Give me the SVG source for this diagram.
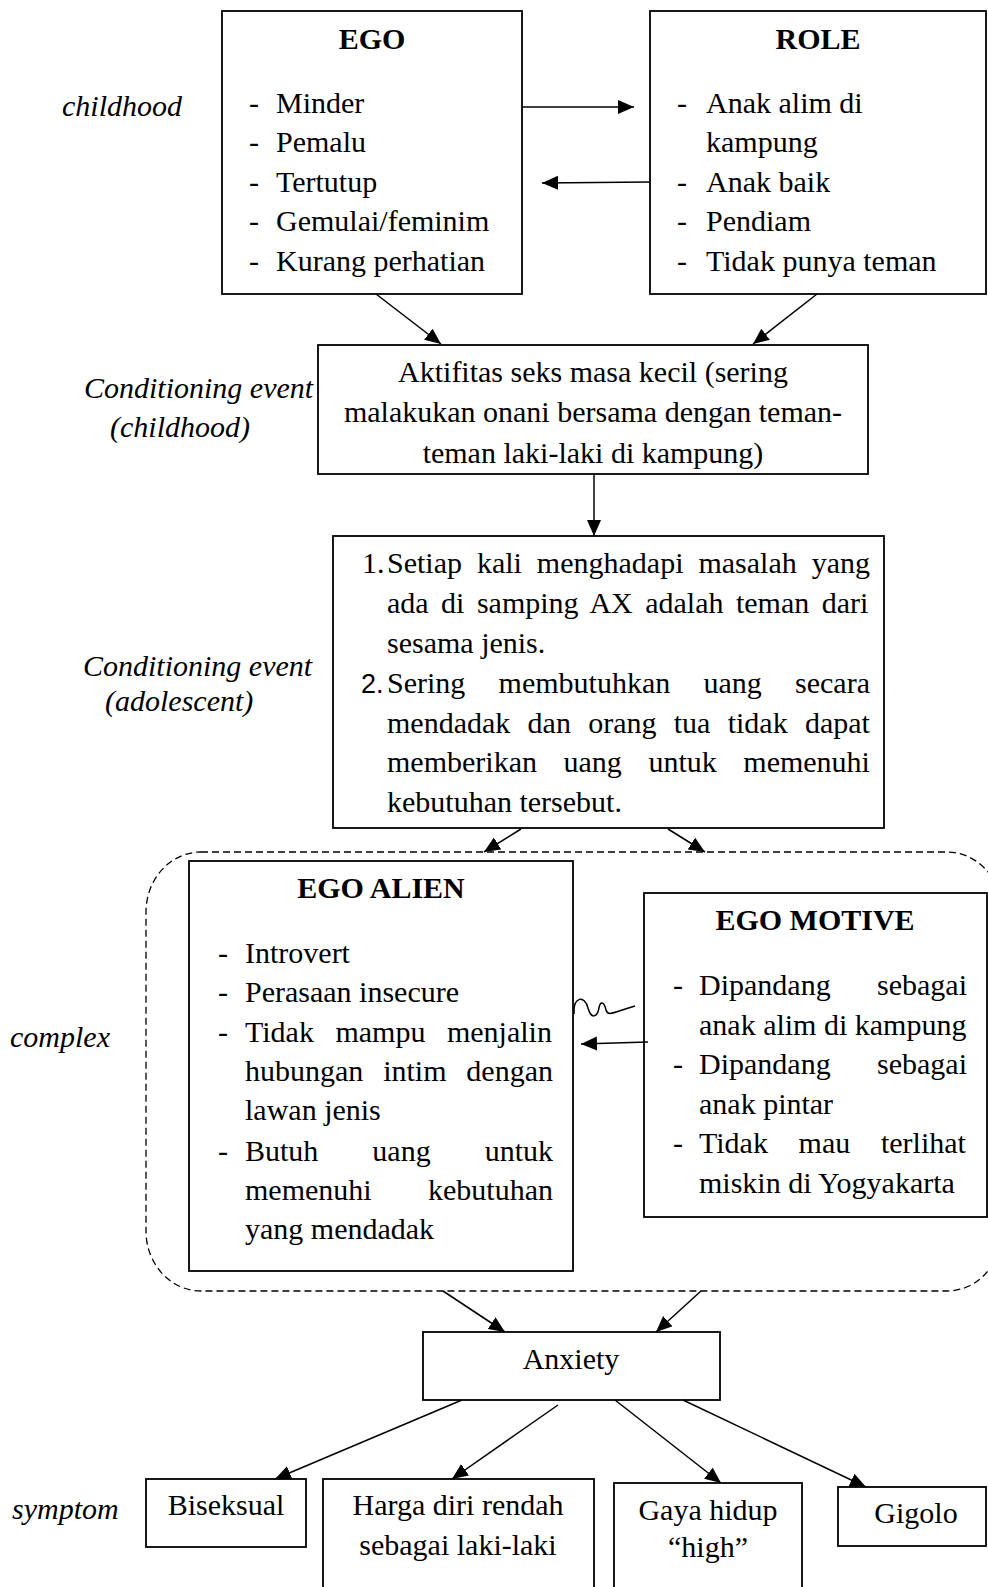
<svg xmlns="http://www.w3.org/2000/svg" width="988" height="1587" viewBox="0 0 988 1587">
<style>
text{font-family:"Liberation Serif","Times New Roman",serif;font-size:30px;fill:#000}
.b{font-weight:bold}
.i{font-style:italic}
.c{text-anchor:middle}
.box{fill:#fff;stroke:#000;stroke-width:1.8}
.ln{fill:none;stroke:#000;stroke-width:1.5}
.ar{marker-end:url(#ah)}
.num2{font-family:"Liberation Sans",Arial,sans-serif;font-size:27px}
</style>
<defs>
<marker id="ah" markerUnits="userSpaceOnUse" markerWidth="17" markerHeight="15" refX="16" refY="7" orient="auto">
<path d="M0,0 L16,7 L0,14 z" fill="#000"/>
</marker>
<clipPath id="clipCond"><rect x="318" y="345" width="550" height="124"/></clipPath>
</defs>
<rect width="988" height="1587" fill="#fff"/>

<g id="labels">
<text class="i" x="62" y="116">childhood</text>
<text class="i" x="84" y="398">Conditioning event</text>
<text class="i" x="110" y="437">(childhood)</text>
<text class="i" x="83" y="676">Conditioning event</text>
<text class="i" x="105" y="711">(adolescent)</text>
<text class="i" x="10" y="1047">complex</text>
<text class="i" x="12" y="1519">symptom</text>
</g>

<g id="complex-container">
<rect x="146" y="852" width="856" height="439" rx="55" ry="60" fill="none" stroke="#000" stroke-width="1.3" stroke-dasharray="7 4"/>
</g>

<g id="node-ego">
<rect class="box" x="222" y="11" width="300" height="283"/>
<text class="b c" x="372" y="49">EGO</text>
<text x="249" y="112.5">-</text><text x="276" y="112.5">Minder</text>
<text x="249" y="152">-</text><text x="276" y="152">Pemalu</text>
<text x="249" y="191.5">-</text><text x="276" y="191.5">Tertutup</text>
<text x="249" y="231">-</text><text x="276" y="231">Gemulai/feminim</text>
<text x="249" y="270.5">-</text><text x="276" y="270.5">Kurang perhatian</text>
</g>

<g id="node-role">
<rect class="box" x="650" y="11" width="336" height="283"/>
<text class="b c" x="818" y="49">ROLE</text>
<text x="677" y="112.5">-</text><text x="706" y="112.5">Anak alim di</text>
<text x="706" y="152">kampung</text>
<text x="677" y="191.5">-</text><text x="706" y="191.5">Anak baik</text>
<text x="677" y="231">-</text><text x="706" y="231">Pendiam</text>
<text x="677" y="270.5">-</text><text x="706" y="270.5">Tidak punya teman</text>
</g>

<g id="node-cond-childhood">
<rect class="box" x="318" y="345" width="550" height="129"/>
<g clip-path="url(#clipCond)">
<text class="c" x="593" y="382">Aktifitas seks masa kecil (sering</text>
<text class="c" x="593" y="422">malakukan onani bersama dengan teman-</text>
<text class="c" x="593" y="463">teman laki-laki di kampung)</text>
</g>
</g>

<g id="node-cond-adolescent">
<rect class="box" x="333" y="536" width="551" height="292"/>
<text x="362" y="573">1.</text>
<text x="387" y="573" word-spacing="7.45">Setiap kali menghadapi masalah yang</text>
<text x="387" y="613" word-spacing="4.97">ada di samping AX adalah teman dari</text>
<text x="387" y="653">sesama jenis.</text>
<text class="num2" x="361" y="693">2.</text>
<text x="387" y="693" word-spacing="25.75">Sering membutuhkan uang secara</text>
<text x="387" y="733" word-spacing="9.78">mendadak dan orang tua tidak dapat</text>
<text x="387" y="772" word-spacing="19.07">memberikan uang untuk memenuhi</text>
<text x="387" y="812">kebutuhan tersebut.</text>
</g>

<g id="node-ego-alien">
<rect class="box" x="189" y="861" width="384" height="410"/>
<text class="b c" x="381" y="898">EGO ALIEN</text>
<text x="218" y="963">-</text><text x="245" y="963">Introvert</text>
<text x="218" y="1002">-</text><text x="245" y="1002">Perasaan insecure</text>
<text x="218" y="1042">-</text><text x="245" y="1042" word-spacing="14">Tidak mampu menjalin</text>
<text x="245" y="1081" word-spacing="12.35">hubungan intim dengan</text>
<text x="245" y="1120">lawan jenis</text>
<text x="218" y="1161">-</text><text x="245" y="1161" word-spacing="46.5">Butuh uang untuk</text>
<text x="245" y="1200" word-spacing="48.9">memenuhi kebutuhan</text>
<text x="245" y="1239">yang mendadak</text>
</g>

<g id="node-ego-motive">
<rect class="box" x="644" y="893" width="343" height="324"/>
<text class="b c" x="815" y="930">EGO MOTIVE</text>
<text x="673" y="995">-</text><text x="699" y="995" word-spacing="38.9">Dipandang sebagai</text>
<text x="699" y="1034.5">anak alim di kampung</text>
<text x="673" y="1074">-</text><text x="699" y="1074" word-spacing="38.9">Dipandang sebagai</text>
<text x="699" y="1113.5">anak pintar</text>
<text x="673" y="1153">-</text><text x="699" y="1153" word-spacing="23.2">Tidak mau terlihat</text>
<text x="699" y="1192.5">miskin di Yogyakarta</text>
</g>

<g id="node-anxiety">
<rect class="box" x="423" y="1332" width="297" height="68"/>
<text class="c" x="571" y="1369">Anxiety</text>
</g>

<g id="node-biseksual">
<rect class="box" x="146" y="1479" width="160" height="68"/>
<text class="c" x="226" y="1515">Biseksual</text>
</g>

<g id="node-harga">
<rect class="box" x="323" y="1479" width="271" height="130"/>
<text class="c" x="458" y="1515">Harga diri rendah</text>
<text class="c" x="458" y="1555">sebagai laki-laki</text>
</g>

<g id="node-gaya">
<rect class="box" x="614" y="1483" width="188" height="130"/>
<text class="c" x="708" y="1520">Gaya hidup</text>
<text class="c" x="708" y="1557">“high”</text>
</g>

<g id="node-gigolo">
<rect class="box" x="838" y="1487" width="148" height="59"/>
<text class="c" x="916" y="1523">Gigolo</text>
</g>

<g id="connectors">
<path class="ln ar" d="M522,107 L634,107"/>
<path class="ln ar" d="M650,182 L542,183"/>
<path class="ln ar" d="M376,294 L441,344"/>
<path class="ln ar" d="M817,294 L753,344"/>
<path class="ln ar" d="M594,474 L594,536"/>
<path class="ln ar" d="M521,829 L484,852"/>
<path class="ln ar" d="M668,829 L705,852"/>
<path class="ln ar" d="M648,1042 L581,1044"/>
<path class="ln" d="M574,1014 C573,996 585,995 588,1008 C591,1019 597,1018 599,1008 C600,1001 604,1001 606,1010 C608,1017 614,1012 635,1006"/>
<path class="ln ar" d="M443,1291 L505,1332"/>
<path class="ln ar" d="M701,1291 L656,1332"/>
<path class="ln ar" d="M462,1400 L275,1479"/>
<path class="ln ar" d="M558,1405 L452,1479"/>
<path class="ln ar" d="M615,1400 L721,1483"/>
<path class="ln ar" d="M683,1400 L866,1487"/>
</g>
</svg>
